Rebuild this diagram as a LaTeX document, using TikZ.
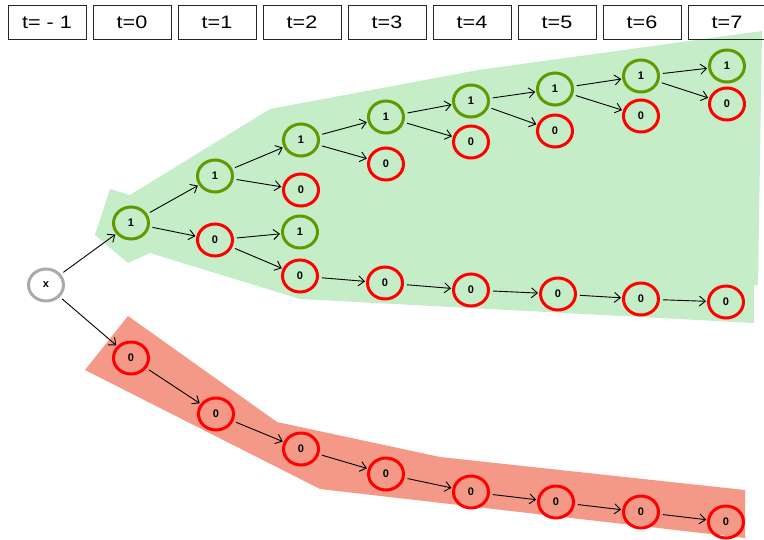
\documentclass[tikz,border=0pt]{standalone}
\usepackage{fontspec}
\setmainfont{Liberation Sans}
\newfontfamily\headfont[FakeStretch=1.2]{Liberation Sans}
\usetikzlibrary{arrows.meta,shapes.geometric}

\definecolor{regiongreen}{RGB}{197,237,200}
\definecolor{regionred}{RGB}{244,153,135}
\definecolor{onegreen}{RGB}{96,154,0}
\definecolor{zerored}{RGB}{255,0,0}
\definecolor{rootgray}{RGB}{170,170,170}

\tikzset{
  state/.style={ellipse, draw, line width=3pt, minimum width=35pt, minimum height=32pt,
    inner sep=0pt, font=\fontsize{11}{11}\selectfont\bfseries},
  one/.style={state, draw=onegreen},
  zero/.style={state, draw=zerored},
  root/.style={state, draw=rootgray},
  link/.style={-{Straight Barb[length=6pt,width=10pt]}, line width=0.9pt,
    shorten <=3pt, shorten >=1pt},
  timebox/.style={draw=black!85, line width=1pt, minimum width=78pt, minimum height=34pt,
    inner sep=0pt, anchor=north west, font=\headfont\fontsize{18}{18}\selectfont},
}

\begin{document}
\begin{tikzpicture}[x=1pt, y=-1pt]
  \path[use as bounding box, clip] (0,0) rectangle (764,539);

  % shaded regions
  \fill[regiongreen] (110,189) -- (130,195) -- (270,109) -- (478,70) -- (762,31)
    -- (758,285) -- (754,285) -- (754,323) -- (300,299) -- (150,253) -- (128,263)
    -- (95,235) -- cycle;
  \fill[regionred] (128,316) -- (277,422) -- (440,457) -- (745,490) -- (745,538)
    -- (320,489) -- (85,370) -- cycle;

  % time header
  \node[timebox] (tm1) at (7.5,5)   {t= - 1};
  \node[timebox] (t0)  at (92.5,5)  {t=0};
  \node[timebox] (t1)  at (177.5,5) {t=1};
  \node[timebox] (t2)  at (262.5,5) {t=2};
  \node[timebox] (t3)  at (347.5,5) {t=3};
  \node[timebox] (t4)  at (432.5,5) {t=4};
  \node[timebox] (t5)  at (517.5,5) {t=5};
  \node[timebox] (t6)  at (602.5,5) {t=6};
  \node[timebox] (t7)  at (687.5,5) {t=7};

  % states
  \node[root] (x) at (46,285) {x};

  \node[one]  (g0) at (131,223) {1};
  \node[one]  (g1) at (215,176) {1};
  \node[zero] (r1) at (215,240) {0};
  \node[one]  (g2) at (301,140) {1};
  \node[zero] (r2) at (301,190) {0};
  \node[one]  (g2b) at (300,232) {1};
  \node[zero] (r2b) at (300,276) {0};
  \node[one]  (g3) at (386,117) {1};
  \node[zero] (r3) at (386,164) {0};
  \node[zero] (r3b) at (385,283) {0};
  \node[one]  (g4) at (471,101) {1};
  \node[zero] (r4) at (471,142) {0};
  \node[zero] (r4b) at (471,290) {0};
  \node[one]  (g5) at (555,89) {1};
  \node[zero] (r5) at (555,131) {0};
  \node[zero] (r5b) at (558,294) {0};
  \node[one]  (g6) at (641,76) {1};
  \node[zero] (r6) at (641,116) {0};
  \node[zero] (r6b) at (641,299) {0};
  \node[one]  (g7) at (727,66) {1};
  \node[zero] (r7) at (727,104) {0};
  \node[zero] (r7b) at (726,302) {0};

  \node[zero] (s0) at (131,358) {0};
  \node[zero] (s1) at (216,414) {0};
  \node[zero] (s2) at (301,449) {0};
  \node[zero] (s3) at (386,474) {0};
  \node[zero] (s4) at (471,492) {0};
  \node[zero] (s5) at (556,502) {0};
  \node[zero] (s6) at (641,512) {0};
  \node[zero] (s7) at (726,522) {0};

  % transitions
  \draw[link] (x) -- (g0);
  \draw[link] (x) -- (s0);

  \draw[link] (g0) -- (g1);
  \draw[link] (g0) -- (r1);
  \draw[link] (g1) -- (g2);
  \draw[link] (g1) -- (r2);
  \draw[link] (r1) -- (g2b);
  \draw[link] (r1) -- (r2b);
  \draw[link] (g2) -- (g3);
  \draw[link] (g2) -- (r3);
  \draw[link] (g3) -- (g4);
  \draw[link] (g3) -- (r4);
  \draw[link] (g4) -- (g5);
  \draw[link] (g4) -- (r5);
  \draw[link] (g5) -- (g6);
  \draw[link] (g5) -- (r6);
  \draw[link] (g6) -- (g7);
  \draw[link] (g6) -- (r7);

  \draw[link] (r2b) -- (r3b);
  \draw[link] (r3b) -- (r4b);
  \draw[link] (r4b) -- (r5b);
  \draw[link] (r5b) -- (r6b);
  \draw[link] (r6b) -- (r7b);

  \draw[link] (s0) -- (s1);
  \draw[link] (s1) -- (s2);
  \draw[link] (s2) -- (s3);
  \draw[link] (s3) -- (s4);
  \draw[link] (s4) -- (s5);
  \draw[link] (s5) -- (s6);
  \draw[link] (s6) -- (s7);
\end{tikzpicture}
\end{document}
